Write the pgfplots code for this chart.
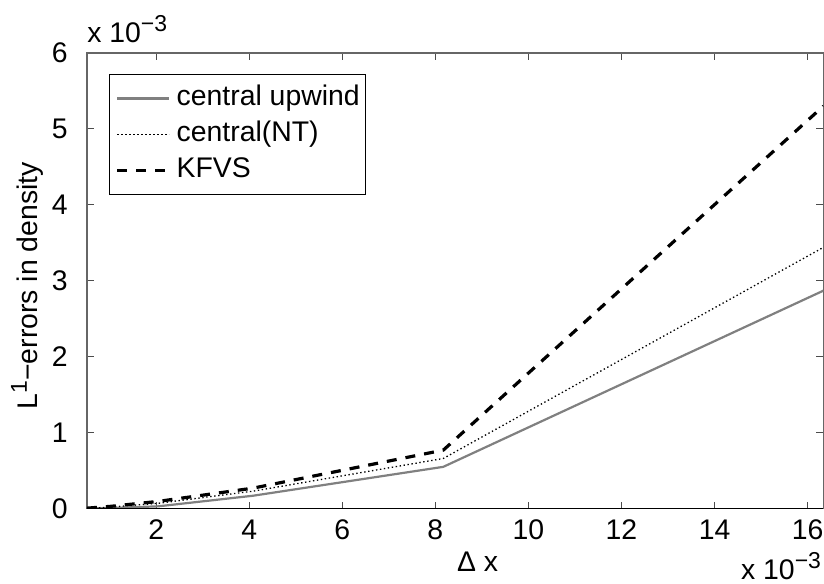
\documentclass[border=0pt]{standalone}
\usepackage{pgfplots}
\pgfplotsset{compat=1.18}
\usepackage{fontspec}
\setmainfont{Liberation Sans}
\usetikzlibrary{calc}
\newcommand{\mysup}[1]{\raisebox{5.5pt}{\fontsize{11.5}{13}\selectfont #1}}
\begin{document}
\begin{tikzpicture}[font=\fontsize{14.2}{17}\selectfont]
\begin{axis}[
  scale only axis, width=368.5pt, height=228pt,
  clip mode=individual,
  xmin=0.5106, xmax=16.34, ymin=0, ymax=6,
  xtick={2,4,...,16}, ytick={0,1,...,6},
  /pgf/number format/assume math mode=true,
  tick align=inside, major tick length=3.5pt,
  tick style={black!70, line width=0.5pt},
  axis line style={black!60, line width=0.6pt},
  xticklabel style={anchor=base, yshift=-15.5pt, inner sep=0pt},
  yticklabel style={anchor=east, xshift=-9.5pt, inner sep=0pt},
  legend style={at={(axis description cs:0.0299,0.954)}, anchor=north west,
    draw=black, line width=0.6pt, inner xsep=3pt, inner ysep=5.5pt,
    nodes={inner sep=0pt, text height=10pt, text depth=3pt},
    row sep=5pt, column sep=3pt},
  legend cell align=left,
  legend image code/.code={\draw[#1] (2.5pt,0pt) -- (28.5pt,0pt);},
]
\addplot[gray, line width=1.1pt] coordinates {
  (0.5106,0.002) (1.0213,0.008) (2.0425,0.03) (4.085,0.17) (8.17,0.55) (16.34,2.87)};
\addlegendentry{central upwind}
\addplot[black, line width=0.65pt, dash pattern=on 0.7pt off 1.3pt] coordinates {
  (0.5106,0.004) (1.0213,0.02) (2.0425,0.07) (4.085,0.23) (8.17,0.66) (16.34,3.44)};
\addlegendentry{central(NT)}
\addplot[black, line width=1.6pt, dash pattern=on 5pt off 4.5pt] coordinates {
  (0.5106,0.006) (1.0213,0.03) (2.0425,0.095) (4.085,0.27) (8.17,0.77) (16.34,5.30)};
\addlegendentry{KFVS}
\draw[black, line width=0.6pt] (rel axis cs:0,0) -- (rel axis cs:1,0);
\coordinate (bl) at (rel axis cs:0,0);
\coordinate (tr) at (rel axis cs:1,1);
\node[anchor=base west, inner sep=0pt] at ($(rel axis cs:0,1)+(0pt,5pt)$) {x 10\mysup{−3}};
\node[anchor=base east, inner sep=0pt] at ($(rel axis cs:1,0)+(-1pt,-35.5pt)$) {x 10\mysup{−3}};
\node[anchor=base, inner sep=0pt] at ($(rel axis cs:0.5305,0)+(0pt,-31.5pt)$) {Δ x};
\node[anchor=base, rotate=90, inner sep=0pt] at ($(rel axis cs:0,0.489)+(-24.5pt,0pt)$) {L\mysup{1}−errors in density};
\end{axis}
\pgfresetboundingbox
\path[use as bounding box] ($(bl)+(-43.5pt,-37.5pt)$) rectangle ($(tr)+(0.3pt,26.5pt)$);
\end{tikzpicture}
\end{document}
